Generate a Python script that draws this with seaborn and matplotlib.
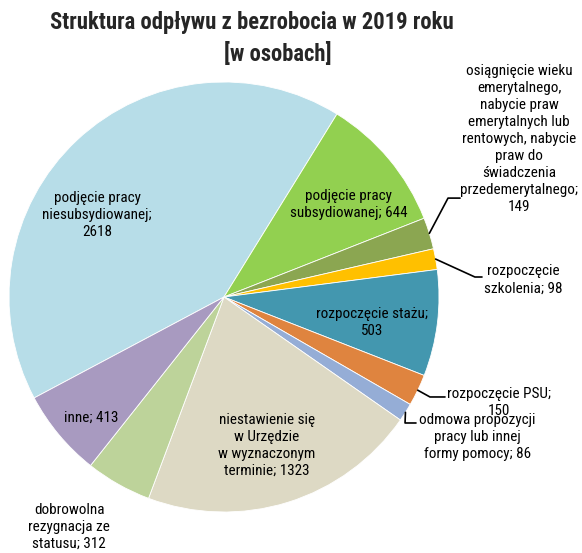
import numpy as np
import matplotlib
matplotlib.use("Agg")
import matplotlib.pyplot as plt
import seaborn as sns

# dane
kategorie = [
    "podjęcie pracy\nniesubsydiowanej;\n2618",
    "podjęcie pracy\nsubsydiowanej; 644",
    "osiągnięcie wieku\nemerytalnego,\nnabycie praw\nemerytalnych lub\nrentowych, nabycie\npraw do\nświadczenia\nprzedemerytalnego;\n149",
    "rozpoczęcie\nszkolenia; 98",
    "rozpoczęcie stażu;\n503",
    "rozpoczęcie PSU;\n150",
    "odmowa propozycji\npracy lub innej\nformy pomocy; 86",
    "niestawienie się\nw Urzędzie\nw wyznaczonym\nterminie; 1323",
    "dobrowolna\nrezygnacja ze\nstatusu; 312",
    "inne; 413",
]
wartosci = [2618, 644, 149, 98, 503, 150, 86, 1323, 312, 413]
kolory = ["#B7DDE8", "#92D050", "#8BA651", "#FFC000", "#4397AF",
          "#DF843F", "#95ADD6", "#DDD9C4", "#BDD39A", "#A89AC0"]

# pozycje etykiet (w jednostkach promienia)
poz_etykiet = [(-0.59, 0.38), (0.58, 0.43), (1.372, 0.735), (1.39, 0.08),
               (0.69, -0.12), (1.28, -0.49), (1.18, -0.65), (0.20, -0.69),
               (-0.72, -1.07), (-0.62, -0.56)]
# linie odniesienia: punkty załamania dla wybranych wycinków
linie = {
    2: [(1.042, 0.46), (1.098, 0.46)],
    3: [(1.167, 0.093), (1.20, 0.093)],
    5: [(0.958, -0.465), (1.028, -0.465)],
    6: [(0.842, -0.586), (0.893, -0.586)],
}

sns.set_theme(style="white")
plt.rcParams['font.family'] = ['Roboto Condensed', 'Liberation Sans', 'DejaVu Sans']

fig = plt.figure(figsize=(5.82, 5.53), dpi=100)
W, H = 582, 553
cx, cy, r = 224, 297, 215
ax = fig.add_axes([(cx - r) / W, (H - cy - r) / H, 2 * r / W, 2 * r / H])

wedges, _ = ax.pie(wartosci, colors=kolory, startangle=208, counterclock=False,
                   wedgeprops=dict(linewidth=0.6, edgecolor="white"))
ax.set_xlim(-1, 1)
ax.set_ylim(-1, 1)
ax.set_aspect("equal")
ax.axis("off")

for i, (txt, (x, y)) in enumerate(zip(kategorie, poz_etykiet)):
    ax.text(x, y, txt, ha="center", va="center", fontsize=10.9,
            linespacing=1.28, color="black")

for i, pts in linie.items():
    w = wedges[i]
    kat = np.deg2rad((w.theta1 + w.theta2) / 2)
    xs = [np.cos(kat)] + [p[0] for p in pts]
    ys = [np.sin(kat)] + [p[1] for p in pts]
    ax.plot(xs, ys, color="black", lw=1.2, clip_on=False)

fig.text(252 / W, 1 - 23 / H, "Struktura odpływu z bezrobocia w 2019 roku",
         ha="center", va="center", fontsize=16.3, fontweight="bold")
fig.text(278 / W, 1 - 54 / H, "[w osobach]",
         ha="center", va="center", fontsize=16.3, fontweight="bold")

fig.savefig("out.png", dpi=100)
